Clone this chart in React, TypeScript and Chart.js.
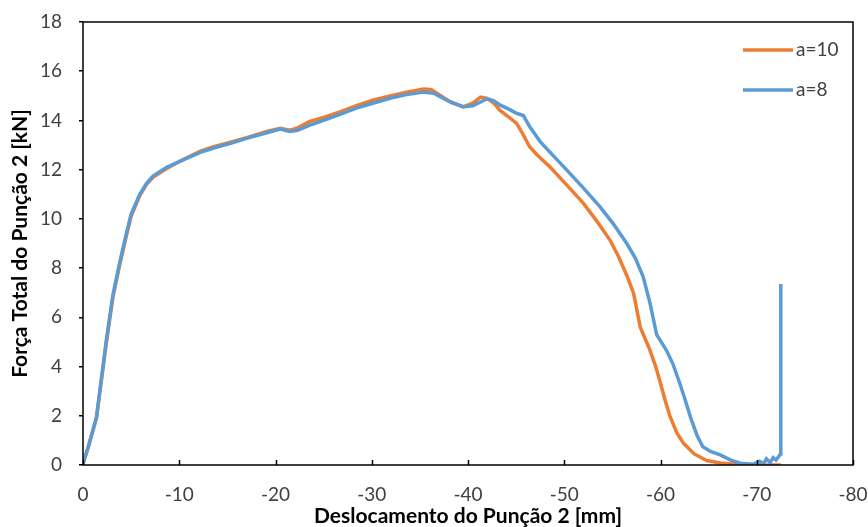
import React, { useEffect, useRef } from "react";
import { Chart, registerables } from "chart.js";

Chart.register(...registerables);

const seriesNames = ["a=10", "a=8"];
const seriesColors = ["#ED7D31", "#5B9BD5"];

const xTicks = [0, -10, -20, -30, -40, -50, -60, -70, -80];
const yTicks = [0, 2, 4, 6, 8, 10, 12, 14, 16, 18];

// a=10 (orange)
const x10 = [
  0, -0.6, -1.4, -2.4, -3.1, -3.8, -4.5, -5.0, -5.9, -6.6, -7.3, -8.7, -10.1, -12.2, -13.5, -15.6, -17, -19.1,
  -20.5, -21.5, -22.3, -23.5, -25, -26.7, -28.4, -30.1, -31.9, -33.6, -35.4, -36.2, -37.0, -38.1, -39.5, -40.5,
  -41.3, -42.0, -42.7, -43.3, -44.2, -45.05, -45.7, -46.4, -47.3, -48.5, -50.2, -52, -53.4, -54.75, -55.6,
  -56.5, -57.2, -57.9, -58.9, -59.5, -60.0, -60.5, -61.0, -61.7, -62.4, -63.5, -64.8, -66.2, -67.6, -69.3, -72.5,
];
const y10 = [
  0.05, 0.8, 1.9, 4.9, 6.8, 8.1, 9.3, 10.1, 10.95, 11.4, 11.7, 12.05, 12.35, 12.75, 12.92, 13.15, 13.3, 13.55,
  13.68, 13.6, 13.7, 13.95, 14.12, 14.35, 14.6, 14.82, 15.0, 15.15, 15.28, 15.25, 15.05, 14.77, 14.55, 14.7,
  14.95, 14.9, 14.7, 14.42, 14.15, 13.88, 13.45, 12.93, 12.55, 12.12, 11.4, 10.63, 9.9, 9.14, 8.5,
  7.7, 6.98, 5.6, 4.67, 4.0, 3.32, 2.6, 1.96, 1.3, 0.88, 0.45, 0.18, 0.08, 0.04, 0.0, 0.0,
];

// a=8 (blue)
const x8 = [
  0, -0.6, -1.4, -2.4, -3.1, -3.8, -4.5, -5.0, -5.9, -6.6, -7.3, -8.7, -10.1, -12.2, -13.5, -15.6, -17, -19.1,
  -20.5, -21.5, -22.3, -23.5, -25, -26.7, -28.4, -30.1, -31.9, -33.6, -35.4, -36.5, -37.4, -38.3, -39.5, -40.5,
  -41.3, -42.0, -42.7, -43.3, -44.3, -45.0, -45.75, -46.4, -47.5, -48.9, -50.25, -52, -53.7, -55.1, -56.5,
  -57.4, -58.2, -58.9, -59.6, -60.6, -61.3, -62.0, -62.6, -63.1, -63.8, -64.4, -65.2, -66.2, -67.3, -68.3,
  -69.6, -70.3, -70.7, -71.0, -71.4, -71.7, -72.0, -72.3, -72.45, -72.5,
];
const y8 = [
  0.05, 0.8, 1.95, 5.0, 6.9, 8.2, 9.4, 10.2, 11.0, 11.45, 11.75, 12.1, 12.35, 12.7, 12.87, 13.1, 13.27, 13.5,
  13.65, 13.55, 13.6, 13.8, 14.0, 14.25, 14.5, 14.7, 14.9, 15.05, 15.15, 15.1, 14.9, 14.72, 14.56, 14.6,
  14.75, 14.88, 14.8, 14.63, 14.45, 14.3, 14.2, 13.75, 13.14, 12.55, 11.99, 11.25, 10.5, 9.8, 9.0,
  8.4, 7.65, 6.6, 5.3, 4.67, 4.1, 3.32, 2.6, 1.96, 1.2, 0.74, 0.55, 0.41, 0.2, 0.07,
  0.03, 0.15, 0.05, 0.25, 0.1, 0.3, 0.2, 0.35, 0.45, 7.35,
];

const xTitle = "Deslocamento do Punção 2 [mm]";
const yTitle = "Força Total do Punção 2 [kN]";

const FONT = "Lato, 'Open Sans', sans-serif";
const TICK_COLOR = "#404040";

function toPoints(xs: number[], ys: number[]) {
  return xs.map((x, i) => ({ x, y: ys[i] }));
}

const framePlugin = {
  id: "frameAndLegend",
  afterDatasetsDraw(chart: any) {
    const { ctx, chartArea } = chart;
    const xs = chart.scales.x;
    ctx.save();
    ctx.strokeStyle = "#000";
    ctx.lineWidth = 1.5;
    ctx.strokeRect(chartArea.left, chartArea.top, chartArea.right - chartArea.left, chartArea.bottom - chartArea.top);
    // inward ticks on x axis
    ctx.beginPath();
    for (const t of xs.ticks) {
      const px = Math.round(xs.getPixelForValue(t.value)) + 0.5;
      ctx.moveTo(px, chartArea.bottom);
      ctx.lineTo(px, chartArea.bottom - 5);
    }
    ctx.stroke();
    // legend
    const ds = chart.data.datasets;
    ds.forEach((d: any, i: number) => {
      const y = chartArea.top + 28 + i * 40;
      const x0 = chartArea.right - 110;
      ctx.strokeStyle = d.borderColor;
      ctx.lineWidth = 3.5;
      ctx.beginPath();
      ctx.moveTo(x0, y);
      ctx.lineTo(x0 + 50, y);
      ctx.stroke();
      ctx.fillStyle = TICK_COLOR;
      ctx.font = `19px ${FONT}`;
      ctx.textBaseline = "middle";
      ctx.textAlign = "left";
      ctx.fillText(d.label, x0 + 53, y);
    });
    ctx.restore();
  },
};

export default function App() {
  const ref = useRef<HTMLCanvasElement>(null);
  useEffect(() => {
    if (!ref.current) return;
    const chart = new Chart(ref.current, {
      type: "scatter",
      data: {
        datasets: [
          {
            label: seriesNames[0],
            data: toPoints(x10, y10),
            borderColor: seriesColors[0],
            backgroundColor: seriesColors[0],
            showLine: true,
            pointRadius: 0,
            borderWidth: 3.5,
            order: 2,
          },
          {
            label: seriesNames[1],
            data: toPoints(x8, y8),
            borderColor: seriesColors[1],
            backgroundColor: seriesColors[1],
            showLine: true,
            pointRadius: 0,
            borderWidth: 3.5,
            order: 1,
          },
        ],
      },
      options: {
        animation: false,
        responsive: true,
        maintainAspectRatio: false,
        layout: { padding: { left: 0, right: 15, top: 22, bottom: 0 } },
        plugins: { legend: { display: false }, tooltip: { enabled: false } },
        scales: {
          x: {
            type: "linear",
            min: -80,
            max: 0,
            reverse: true,
            afterFit: (s: any) => {
              s.height = 62;
              s.paddingLeft = 0;
              s.paddingRight = 0;
            },
            afterBuildTicks: (s: any) => {
              s.ticks = xTicks.map((v) => ({ value: v }));
            },
            grid: { display: false, drawTicks: false },
            border: { display: false },
            ticks: {
              color: TICK_COLOR,
              font: { family: FONT, size: 19 },
              padding: 18,
              callback: (v: any) => String(v),
              maxRotation: 0,
            },
            title: {
              display: true,
              text: xTitle,
              color: "#000",
              font: { family: FONT, size: 21, weight: "bold", lineHeight: 1 },
              padding: { top: 0, bottom: 0 },
            },
          },
          y: {
            type: "linear",
            min: 0,
            max: 18,
            afterFit: (s: any) => {
              s.width = 83;
              s.paddingTop = 0;
              s.paddingBottom = 0;
            },
            afterBuildTicks: (s: any) => {
              s.ticks = yTicks.map((v) => ({ value: v }));
            },
            grid: { drawOnChartArea: false, drawTicks: true, tickLength: 4, color: "#000", lineWidth: 1.5 },
            border: { display: false },
            ticks: {
              color: TICK_COLOR,
              font: { family: FONT, size: 19 },
              padding: 17,
              callback: (v: any) => String(v),
            },
            title: {
              display: true,
              text: yTitle,
              color: "#000",
              font: { family: FONT, size: 21, weight: "bold", lineHeight: 1.2 },
              padding: { top: 8, bottom: 0 },
            },
          },
        },
      },
      plugins: [framePlugin],
    });
    return () => chart.destroy();
  }, []);
  return (
    <div style={{ position: "fixed", left: 0, top: 0, width: 868, height: 527, background: "#fff" }}>
      <canvas ref={ref} />
    </div>
  );
}
